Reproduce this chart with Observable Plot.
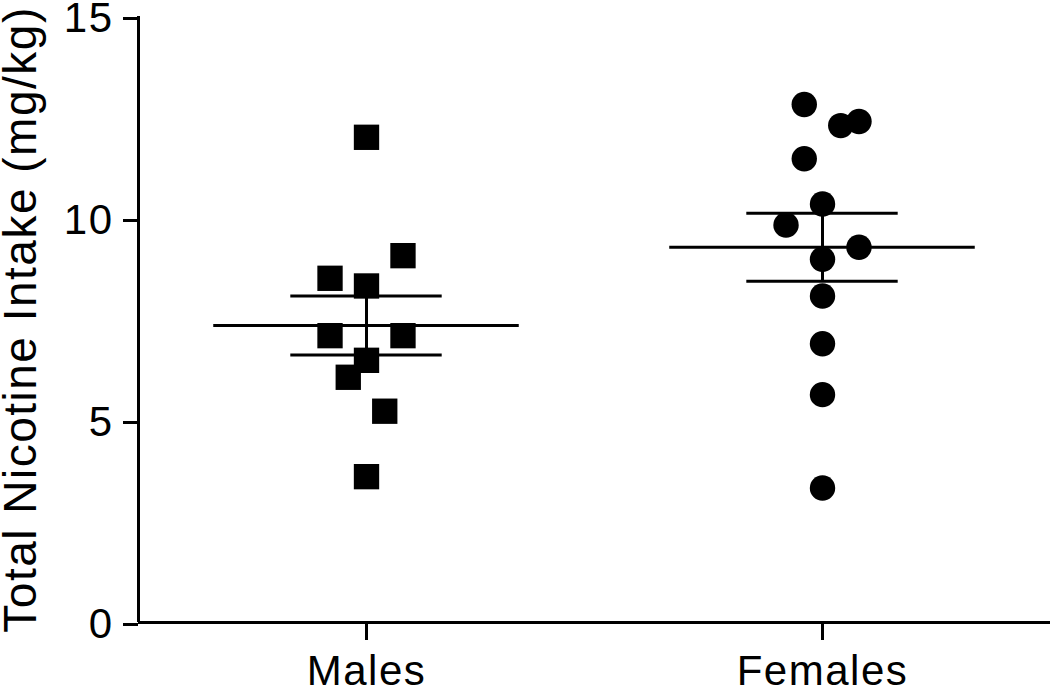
<!DOCTYPE html>
<html>
<head>
<meta charset="utf-8">
<script src="https://cdn.jsdelivr.net/npm/d3@7"></script>
<script src="https://cdn.jsdelivr.net/npm/@observablehq/plot@0.6"></script>
<style>
  html, body { margin: 0; padding: 0; background: #fff; }
  #chart svg { display: block; }
  #chart svg text { letter-spacing: 1.5px; }
</style>
</head>
<body>
<div id="chart"></div>
<script>
const groups = ["Males", "Females"];
const yTicks = [0, 5, 10, 15];
const yLabel = "Total Nicotine Intake (mg/kg)";

const maleValues  = [12.01, 9.08, 8.52, 8.33, 7.10, 7.10, 6.49, 6.07, 5.23, 3.61];
const maleOffsets = [0, 0.08, -0.08, 0, -0.08, 0.08, 0, -0.04, 0.04, 0];

const femaleValues  = [12.82, 12.30, 12.40, 11.48, 10.36, 9.84, 9.29, 8.99, 8.08, 6.90, 5.64, 3.33];
const femaleOffsets = [-0.04, 0.04, 0.08, -0.04, 0, -0.08, 0.08, 0, 0, 0, 0, 0];

const males = maleValues.map((v, i) => ({x: 0 + maleOffsets[i], y: v}));
const females = femaleValues.map((v, i) => ({x: 1 + femaleOffsets[i], y: v}));

const stats = [maleValues, femaleValues].map((vals, i) => {
  const m = d3.mean(vals);
  const sem = d3.deviation(vals) / Math.sqrt(vals.length);
  return {i, mean: m, lo: m - sem, hi: m + sem};
});

const meanHalf = 0.335;
const capHalf = 0.166;
const font = "'Liberation Sans', Arial, Helvetica, sans-serif";

const chart = Plot.plot({
  width: 1050,
  height: 689,
  marginLeft: 138,
  marginRight: 0,
  marginTop: 16,
  marginBottom: 67,
  style: {fontFamily: font, color: "#000", background: "#fff", overflow: "visible"},
  x: {domain: [-0.5, 1.5]},
  y: {domain: [0, 15]},
  marks: [
    Plot.axisY({
      ticks: yTicks, tickSize: 15, tickPadding: 10, strokeWidth: 3,
      fontSize: 42, dy: 2, label: null
    }),
    Plot.axisX({
      ticks: [0, 1], tickFormat: i => groups[i], tickSize: 18, tickPadding: 15,
      strokeWidth: 3, fontSize: 42, label: null
    }),
    Plot.text([yLabel], {
      frameAnchor: "left", rotate: -90, dx: -135, textAnchor: "middle",
      lineAnchor: "top", fontSize: 46, fill: "#000"
    }),
    Plot.ruleX([-0.5], {strokeWidth: 3}),
    Plot.ruleY([0], {strokeWidth: 3}),
    Plot.dot(males, {x: "x", y: "y", symbol: "square", r: 14.3, fill: "#000", stroke: "none"}),
    Plot.dot(females, {x: "x", y: "y", symbol: "circle", r: 12.7, fill: "#000", stroke: "none"}),
    Plot.ruleY(stats, {y: "mean", x1: d => d.i - meanHalf, x2: d => d.i + meanHalf, strokeWidth: 3}),
    Plot.ruleY(stats, {y: "hi", x1: d => d.i - capHalf, x2: d => d.i + capHalf, strokeWidth: 3}),
    Plot.ruleY(stats, {y: "lo", x1: d => d.i - capHalf, x2: d => d.i + capHalf, strokeWidth: 3}),
    Plot.ruleX(stats, {x: "i", y1: "lo", y2: "hi", strokeWidth: 3})
  ]
});
document.getElementById("chart").append(chart);
</script>
</body>
</html>
